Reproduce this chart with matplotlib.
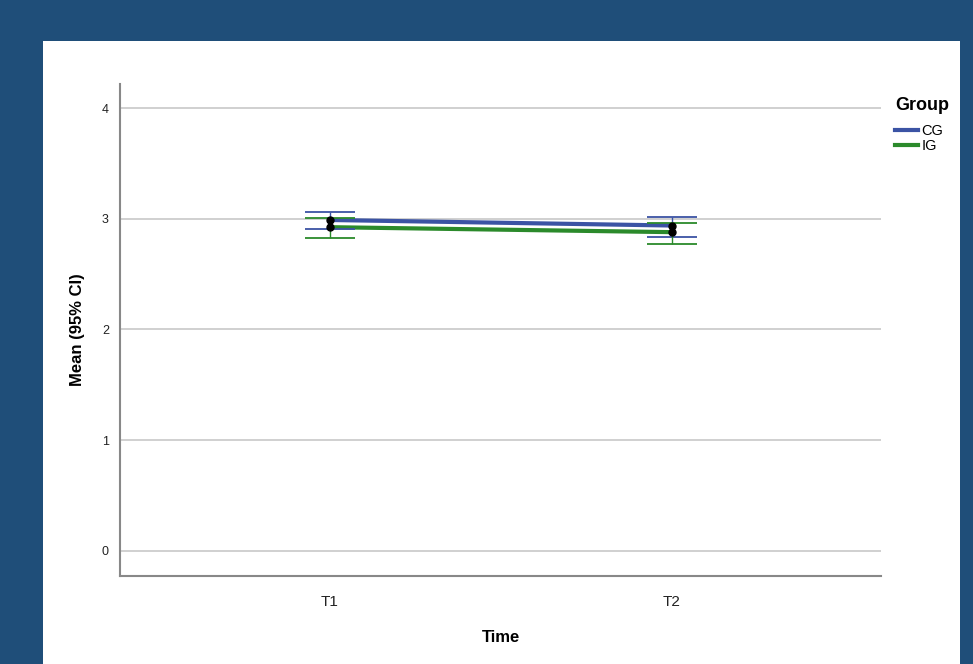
import matplotlib.pyplot as plt
from matplotlib.patches import Rectangle
from matplotlib.lines import Line2D

plt.rcParams['font.family'] = ['Liberation Sans', 'DejaVu Sans']

# data
times = ["T1", "T2"]
cg_mean = [2.99, 2.94]
cg_lo = [2.91, 2.84]
cg_hi = [3.06, 3.02]
ig_mean = [2.925, 2.88]
ig_lo = [2.83, 2.77]
ig_hi = [3.01, 2.96]

navy = "#1f4e79"
blue = "#3b53a4"
green = "#2b8a2b"

fig = plt.figure(figsize=(9.73, 6.64), dpi=100, facecolor=navy)
fig.add_artist(Rectangle((43 / 973, 0), (960 - 43) / 973, 1 - 41 / 664,
                         transform=fig.transFigure, facecolor="white",
                         edgecolor="none", zorder=-10))

ax = fig.add_axes([120 / 973, 1 - 576 / 664, (881 - 120) / 973, (576 - 84) / 664])
ax.set_zorder(1)
ax.set_facecolor("white")

x = list(range(len(times)))

for mean, lo, hi, col in [(cg_mean, cg_lo, cg_hi, blue), (ig_mean, ig_lo, ig_hi, green)]:
    ax.plot(x, mean, color=col, lw=3, zorder=3)
    yerr = [[m - l for m, l in zip(mean, lo)], [h - m for m, h in zip(mean, hi)]]
    ax.errorbar(x, mean, yerr=yerr, fmt="none", ecolor=col, elinewidth=1,
                capsize=18, capthick=1.3, zorder=4)
    ax.plot(x, mean, "o", color="black", ms=5, zorder=5)

ax.set_xlim(-0.614, 1.611)
ax.set_ylim(-0.23, 4.22)
ax.set_xticks(x)
ax.set_xticklabels(times)
ax.set_yticks([0, 1, 2, 3, 4])
ax.tick_params(axis="both", length=0, labelsize=9, colors="#222222")
ax.tick_params(axis="x", pad=14, labelsize=11)
ax.tick_params(axis="y", pad=8)
ax.grid(axis="y", color="#c8c8c8", lw=1.2)
ax.set_axisbelow(True)
for s in ["top", "right"]:
    ax.spines[s].set_visible(False)
for s in ["left", "bottom"]:
    ax.spines[s].set_color("#888888")
    ax.spines[s].set_linewidth(1.5)

ax.set_ylabel("Mean (95% CI)", fontsize=12, fontweight="bold", labelpad=12)
ax.set_xlabel("Time", fontsize=12, fontweight="bold", labelpad=15)

handles = [Line2D([0], [0], color=blue, lw=3), Line2D([0], [0], color=green, lw=3)]
leg = fig.legend(handles, ["CG", "IG"], loc="upper left",
                 bbox_to_anchor=(882 / 973, 1 - 84 / 664), frameon=False,
                 title="Group", handlelength=1.6, handletextpad=0.2,
                 labelspacing=0.1, fontsize=10.5, alignment="left")
leg.get_title().set_fontweight("bold")
leg.get_title().set_fontsize(13)
leg._legend_box.sep = 7

fig.savefig("out.png", dpi=100, facecolor=navy)
